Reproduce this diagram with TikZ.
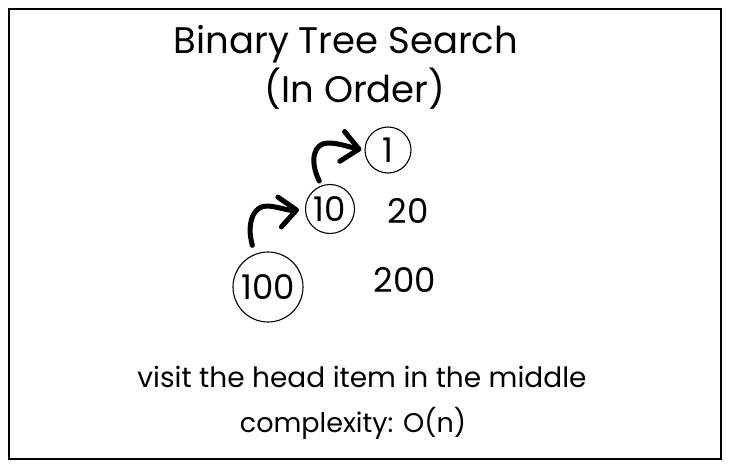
\documentclass[tikz,border=0pt]{standalone}
\usepackage{fontspec}
\setmainfont{Poppins}
\usetikzlibrary{arrows.meta}
\begin{document}
\begin{tikzpicture}[x=1pt,y=-1pt,
  ring/.style={circle,draw,line width=1.1pt,inner sep=0pt},
  numtxt/.style={font=\fontsize{34}{38}\selectfont},
  titletxt/.style={font=\fontsize{37}{42}\selectfont},
  notetxt/.style={font=\fontsize{28}{34}\selectfont},
  hop/.style={line width=5pt,line cap=round,line join=round,
    -{Straight Barb[length=17pt,width=30pt,line cap=round,line join=round]}}]
\useasboundingbox (0,0) rectangle (731,468);
\draw[line width=1.4pt] (9,9) rectangle (721,459);
\node[titletxt] (title) at (346,44) {Binary Tree Search};
\node[titletxt] (sub) at (355,89) {(In Order)};
\node[ring,numtxt,minimum size=46pt] (n1) at (388,150) {1};
\node[ring,numtxt,minimum size=49pt] (n10) at (330,209) {10};
\node[ring,numtxt,minimum size=70pt] (n100) at (268,287) {100};
\node[numtxt] (n20) at (408,211) {20};
\node[numtxt] (n200) at (405,280) {200};
\node[notetxt] (note) at (362,377) {visit the head item in the middle};
\node[font=\fontsize{27}{32}\selectfont] (cx) at (353,423) {complexity: O(n)};
\draw[hop,shorten <=9pt,shorten >=6pt] (n100.112) .. controls (246,222) and (254,205) .. (268,206) .. controls (280,207) and (288,211) .. (n10.west);
\draw[hop,shorten <=5pt,shorten >=3pt] (n10.110) .. controls (309,160) and (314,143) .. (328,143) .. controls (340,143) and (352,148) .. (n1.west);
\end{tikzpicture}
\end{document}
